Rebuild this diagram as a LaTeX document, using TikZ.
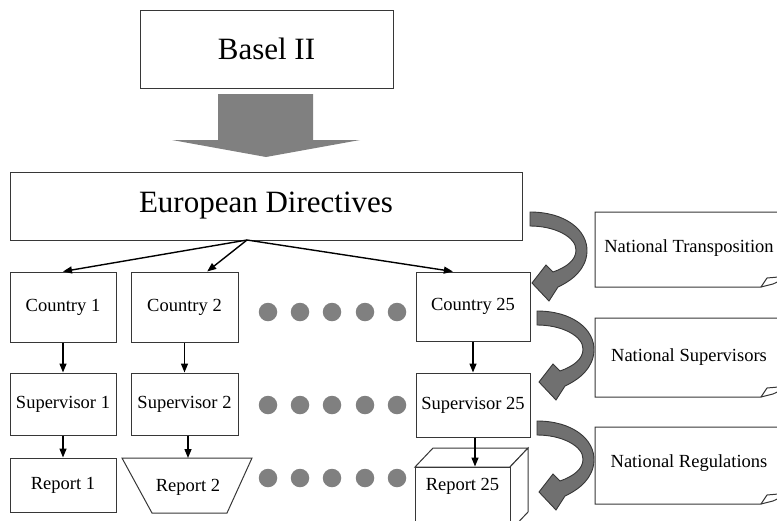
\documentclass[tikz,border=0pt]{standalone}
\usepackage{fontspec}
\setmainfont{Liberation Serif}
\usetikzlibrary{arrows.meta,calc}
\definecolor{edge}{RGB}{55,55,55}
\definecolor{arrowgrey}{RGB}{112,112,112}
\definecolor{bigarrow}{RGB}{128,128,128}
\definecolor{dotgrey}{RGB}{128,128,128}
\tikzset{
  box/.style={draw=edge, line width=1pt, fill=white, inner sep=0pt},
  smalltext/.style={font=\fontsize{18.5}{20}\selectfont},
  bigtext/.style={font=\fontsize{31}{34}\selectfont},
  link/.style={line width=1.4pt, -{Triangle[length=9pt,width=7pt]}},
  dot/.style={circle, fill=dotgrey, minimum size=18.5pt, inner sep=0pt},
  bendarrow/.pic={
    \draw[draw=edge, line width=0.9pt, fill=arrowgrey]
      (0,0) .. controls (35,0) and (58,18) .. (57,40)
            .. controls (56,57) and (43,68) .. (28,75)
      -- (19,89) -- (2,71) -- (16,53) -- (23,60)
            .. controls (37,55) and (46,48) .. (46,38)
            .. controls (46,25) and (25,14) .. (0,14) -- cycle;
  }
}
\begin{document}
\begin{tikzpicture}[x=1pt, y=-1pt]
\useasboundingbox (0,0) rectangle (777,520);
\clip (0,0) rectangle (777,520);

% top level boxes
\node[box, bigtext, minimum width=253, minimum height=78] (basel) at (266.5,49) {Basel II};
\node[box, bigtext, minimum width=512, minimum height=68] (ed) at (266,206) {European Directives};

% broad downward arrow
\fill[bigarrow] (218,94) -- (313,94) -- (313,140) -- (360,140) -- (266,157)
  -- (172,140) -- (218,140) -- cycle;

% country level
\node[box, smalltext, minimum width=106, minimum height=70] (c1) at (63,307) {Country 1};
\node[box, smalltext, minimum width=107, minimum height=70] (c2) at (184.5,307) {Country 2};
\node[box, smalltext, minimum width=114, minimum height=69] (c25) at (473,306.5) {Country 25};

% supervisor level
\node[box, smalltext, minimum width=106, minimum height=62] (s1) at (63,404) {Supervisor 1};
\node[box, smalltext, minimum width=107, minimum height=62] (s2) at (184.5,404) {Supervisor 2};
\node[box, smalltext, minimum width=114, minimum height=64] (s25) at (473,405) {Supervisor 25};

% report level
\node[box, smalltext, minimum width=106, minimum height=54] (r1) at (63,485) {Report 1};
\draw[draw=edge, line width=1pt, fill=white] (122,458) -- (252,458) -- (227,513) -- (152,513) -- cycle;
\node[smalltext] (r2) at (188,487) {Report 2};
\coordinate (r2top) at (188,458);

% cube for the last report
\draw[draw=edge, line width=1pt, fill=white] (415,467) -- (433,448) -- (528,448) -- (510,467) -- cycle;
\draw[draw=edge, line width=1pt, fill=white] (510,467) -- (528,448) -- (528,512) -- (510,531) -- cycle;
\node[box, minimum width=95, minimum height=64] (r25) at (462.5,499) {};
\node[smalltext] (r25t) at (462.5,486) {Report 25};

% ellipsis dots
\foreach \r/\y in {1/312, 2/405, 3/478}{
  \foreach \i/\x in {1/268, 2/300, 3/332, 4/365, 5/397}{
    \node[dot] (d\r\i) at (\x,\y) {};
  }
}

% connectors
\coordinate (edsrc) at (247,240);
\draw[link] (edsrc) -- (c1.north);
\draw[link] (edsrc) -- ($(c2.north)!0.42!(c2.north east)$);
\draw[link] (edsrc) -- ($(c25.north)!0.35!(c25.north west)$);
\draw[link] (c1.south) -- (s1.north);
\draw[link] (c2.south) -- (s2.north);
\draw[link] (c25.south) -- (s25.north);
\draw[link] (s1.south) -- (r1.north);
\draw[link] (s2.south -| r2top) -- (r2top);
\draw[link] (s25.south -| 475,0) -- (r25.north -| 475,0);

% bent arrows
\pic at (530,212) {bendarrow};
\pic at (537,311) {bendarrow};
\pic at (537,421) {bendarrow};

% side notes with folded corners
\foreach \top/\bot in {212/287, 318/397, 427/504}{
  \draw[draw=edge, line width=1pt, fill=white]
    (595,\top) -- (790,\top) -- (790,\bot-11) -- (767,\bot-9) -- (761,\bot) -- (595,\bot) -- cycle;
  \draw[draw=edge, line width=1pt] (761,\bot) -- (773,\bot-3) -- (790,\bot-11);
}
\node[smalltext] (nt) at (689,248) {National Transposition};
\node[smalltext] (ns) at (689,357) {National Supervisors};
\node[smalltext] (nr) at (689,463) {National Regulations};
\end{tikzpicture}
\end{document}
